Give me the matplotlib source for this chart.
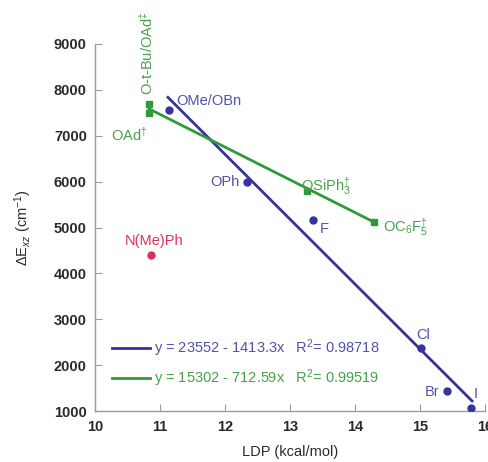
import matplotlib
matplotlib.use("Agg")
import matplotlib.pyplot as plt
import numpy as np
from matplotlib.lines import Line2D

plt.rcParams['font.family'] = ['Liberation Sans', 'DejaVu Sans']
plt.rcParams['mathtext.fontset'] = 'custom'
plt.rcParams['mathtext.rm'] = 'Liberation Sans'
plt.rcParams['mathtext.it'] = 'Liberation Sans:italic'
plt.rcParams['mathtext.bf'] = 'Liberation Sans:bold'

# Blue series (circles)
blue_x = [11.14, 12.34, 13.35, 15.02, 15.42, 15.79]
blue_y = [7550, 6000, 5170, 2380, 1440, 1080]
# Green series (squares)
green_x = [10.83, 10.83, 13.26, 14.29]
green_y = [7700, 7500, 5800, 5120]
# Red point
red_x = [10.86]
red_y = [4400]

# Fits
blue_a, blue_b = 23552, -1413.3
green_a, green_b = 15302, -712.59
blue_fit_range = [11.12, 15.8]
green_fit_range = [10.83, 14.3]

blue = '#34349a'
blue_txt = '#5252a8'
green = '#2f9a3a'
green_txt = '#45a24a'
red = '#e0305a'

fig = plt.figure(figsize=(4.88, 4.62), dpi=100)
ax = fig.add_axes([0.195, 0.110, 0.799, 0.795])

bx = np.array(blue_fit_range)
gx = np.array(green_fit_range)
ax.plot(bx, blue_a + blue_b * bx, color=blue, lw=2)
ax.plot(gx, green_a + green_b * gx, color=green, lw=2)

ax.plot(blue_x, blue_y, 'o', color=blue, ms=5, zorder=3)
ax.plot(green_x, green_y, 's', color=green, ms=5, zorder=3)
ax.plot(red_x, red_y, 'o', color=red, ms=5, zorder=3)

fs = 10.5
ax.text(11.25, 7760, 'OMe/OBn', color=blue_txt, fontsize=fs, ha='left', va='center')
ax.text(12.22, 6000, 'OPh', color=blue_txt, fontsize=fs, ha='right', va='center')
ax.text(13.45, 4960, 'F', color=blue_txt, fontsize=fs, ha='left', va='center')
ax.text(15.05, 2650, 'Cl', color=blue_txt, fontsize=fs, ha='center', va='center')
ax.text(15.3, 1420, 'Br', color=blue_txt, fontsize=fs, ha='right', va='center')
ax.text(15.85, 1380, 'I', color=blue_txt, fontsize=fs, ha='center', va='center')
ax.text(10.9, 4700, 'N(Me)Ph', color=red, fontsize=fs, ha='center', va='center')
ax.text(10.81, 7030, r'OAd$^{\dagger}$', color=green_txt, fontsize=fs, ha='right', va='center')
ax.text(10.8, 7880, r'O-t-Bu/OAd$^{\ddagger}$', color=green_txt, fontsize=fs,
        rotation=90, ha='center', va='bottom', clip_on=False)
ax.text(13.17, 5900, r'OSiPh$_3^{\dagger}$', color=green_txt, fontsize=fs, ha='left', va='center')
ax.text(14.43, 5000, r'OC$_6$F$_5^{\dagger}$', color=green_txt, fontsize=fs, ha='left', va='center')

handles = [Line2D([], [], color=blue, lw=2), Line2D([], [], color=green, lw=2)]
labels = [r'y = 23552 - 1413.3x   R$^2$= 0.98718',
          r'y = 15302 - 712.59x   R$^2$= 0.99519']
leg = ax.legend(handles, labels, loc='lower left', bbox_to_anchor=(0.01, 0.025),
                frameon=False, fontsize=fs, handlelength=2.6, handletextpad=0.3,
                labelspacing=0.55)
leg.get_texts()[0].set_color(blue_txt)
leg.get_texts()[1].set_color(green_txt)

ax.set_xlim(10, 16)
ax.set_ylim(1000, 9000)
ax.set_xticks(range(10, 17))
ax.set_yticks(range(1000, 9001, 1000))
for s in ['top', 'right']:
    ax.spines[s].set_visible(False)
for s in ['left', 'bottom']:
    ax.spines[s].set_color('#a09a9a')
    ax.spines[s].set_linewidth(1.0)
ax.tick_params(direction='in', length=5, color='#a09a9a', labelsize=10.5,
               labelcolor='#2a2a2a', pad=6)
for lab in ax.get_xticklabels() + ax.get_yticklabels():
    lab.set_fontweight('bold')

ax.set_xlabel('LDP (kcal/mol)', fontsize=10.5, color='#2a2a2a', labelpad=8)
ax.set_ylabel(r'$\Delta$E$_{xz}$ (cm$^{-1}$)', fontsize=10.5, color='#2a2a2a', labelpad=14)

fig.savefig('out.png', dpi=100)
